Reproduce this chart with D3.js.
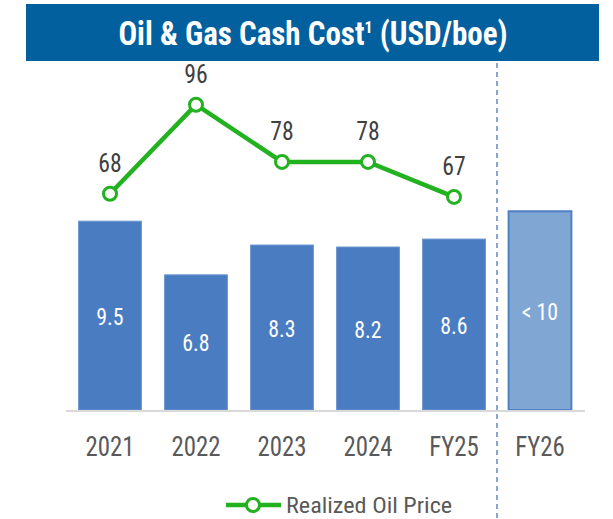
<!DOCTYPE html>
<html>
<head>
<meta charset="utf-8">
<script src="https://cdn.jsdelivr.net/npm/d3@7"></script>
<style>
  body { margin: 0; background: #fff; }
  text { font-family: "Roboto Condensed", "Liberation Sans Narrow", "DejaVu Sans Condensed", sans-serif; }
</style>
</head>
<body>
<script>
// chart data
var categories = ["2021", "2022", "2023", "2024", "FY25", "FY26"];
var cashCost = [9.5, 6.8, 8.3, 8.2, 8.6, 10];
var costLabels = ["9.5", "6.8", "8.3", "8.2", "8.6", "< 10"];
var oilYears = ["2021", "2022", "2023", "2024", "FY25"];
var oilPrice = [68, 96, 78, 78, 67];

var w = 613, h = 519;
var svg = d3.select("body").append("svg")
  .attr("width", w)
  .attr("height", h);

// place text with a horizontal squeeze
function place(x, y, sx) {
  return "translate(" + x + "," + y + ") scale(" + sx + ",1)";
}

// title band
svg.append("rect")
  .attr("x", 26).attr("y", 4)
  .attr("width", 573).attr("height", 57)
  .attr("fill", "#03609e");
svg.append("text")
  .attr("transform", place(313, 45, 0.94))
  .attr("text-anchor", "middle")
  .attr("fill", "#fff")
  .style("font-size", "33px")
  .style("font-weight", "bold")
  .html("Oil &amp; Gas Cash Cost<tspan dy='-12' style='font-size:17px'>1</tspan><tspan dy='12'> (USD/boe)</tspan>");

var x = d3.scaleBand().domain(categories).range([67, 583]).paddingInner(0.27).paddingOuter(0.135);
var yBar = d3.scaleLinear().domain([0, 16]).range([410, 92]);
var yLine = d3.scaleLinear().domain([0, 100]).range([410, 92]);

// bars
svg.selectAll("rect.bar")
  .data(cashCost)
  .enter()
  .append("rect")
  .attr("class", "bar")
  .attr("x", function(d, i) { return x(categories[i]); })
  .attr("y", function(d) { return yBar(d); })
  .attr("width", x.bandwidth())
  .attr("height", function(d) { return yBar(0) - yBar(d); })
  .attr("fill", function(d, i) { return i == 5 ? "#80a6d4" : "#4a7cc2"; })
  .attr("stroke", function(d, i) { return i == 5 ? "#4f80c4" : "#6b95cf"; })
  .attr("stroke-width", function(d, i) { return i == 5 ? 2 : 1; });

svg.selectAll("text.barlabel")
  .data(cashCost)
  .enter()
  .append("text")
  .attr("class", "barlabel")
  .attr("transform", function(d, i) {
    return place(x(categories[i]) + x.bandwidth() / 2, (yBar(d) + yBar(0)) / 2 + 9, 0.95);
  })
  .attr("text-anchor", "middle")
  .attr("fill", "#fff")
  .style("font-size", "23px")
  .text(function(d, i) { return costLabels[i]; });

// baseline
svg.append("line")
  .attr("x1", 66).attr("x2", 585)
  .attr("y1", 411).attr("y2", 411)
  .attr("stroke", "#d9d9d9")
  .attr("stroke-width", 2);

// separator
var sep = x("FY26") - x.step() * x.paddingInner() / 2;
svg.append("line")
  .attr("x1", sep).attr("x2", sep)
  .attr("y1", 63).attr("y2", h)
  .attr("stroke", "#4a74c4")
  .attr("stroke-width", 1.3)
  .attr("stroke-dasharray", "5,4");

// category labels
svg.selectAll("text.cat")
  .data(categories)
  .enter()
  .append("text")
  .attr("class", "cat")
  .attr("transform", function(d) { return place(x(d) + x.bandwidth() / 2, 456, 0.92); })
  .attr("text-anchor", "middle")
  .attr("fill", "#595959")
  .style("font-size", "27px")
  .text(function(d) { return d; });

// oil price line
var line = d3.line()
  .x(function(d, i) { return x(oilYears[i]) + x.bandwidth() / 2; })
  .y(function(d) { return yLine(d); });

svg.append("path")
  .datum(oilPrice)
  .attr("d", line)
  .attr("fill", "none")
  .attr("stroke", "#22b21f")
  .attr("stroke-width", 4.5);

svg.selectAll("circle.pt")
  .data(oilPrice)
  .enter()
  .append("circle")
  .attr("class", "pt")
  .attr("cx", function(d, i) { return x(oilYears[i]) + x.bandwidth() / 2; })
  .attr("cy", function(d) { return yLine(d); })
  .attr("r", 6.5)
  .attr("fill", "#fff")
  .attr("stroke", "#22b21f")
  .attr("stroke-width", 3);

svg.selectAll("text.pt")
  .data(oilPrice)
  .enter()
  .append("text")
  .attr("class", "pt")
  .attr("transform", function(d, i) {
    return place(x(oilYears[i]) + x.bandwidth() / 2, yLine(d) - 22, 0.95);
  })
  .attr("text-anchor", "middle")
  .attr("fill", "#404040")
  .style("font-size", "25px")
  .text(function(d) { return d; });

// legend
svg.append("line")
  .attr("x1", 226).attr("x2", 281)
  .attr("y1", 505).attr("y2", 505)
  .attr("stroke", "#22b21f")
  .attr("stroke-width", 4.5);
svg.append("circle")
  .attr("cx", 253).attr("cy", 505).attr("r", 6.5)
  .attr("fill", "#fff")
  .attr("stroke", "#22b21f")
  .attr("stroke-width", 3);
svg.append("text")
  .attr("transform", place(286, 513, 1.1))
  .attr("fill", "#595959")
  .style("font-size", "22px")
  .text("Realized Oil Price");
</script>
</body>
</html>
